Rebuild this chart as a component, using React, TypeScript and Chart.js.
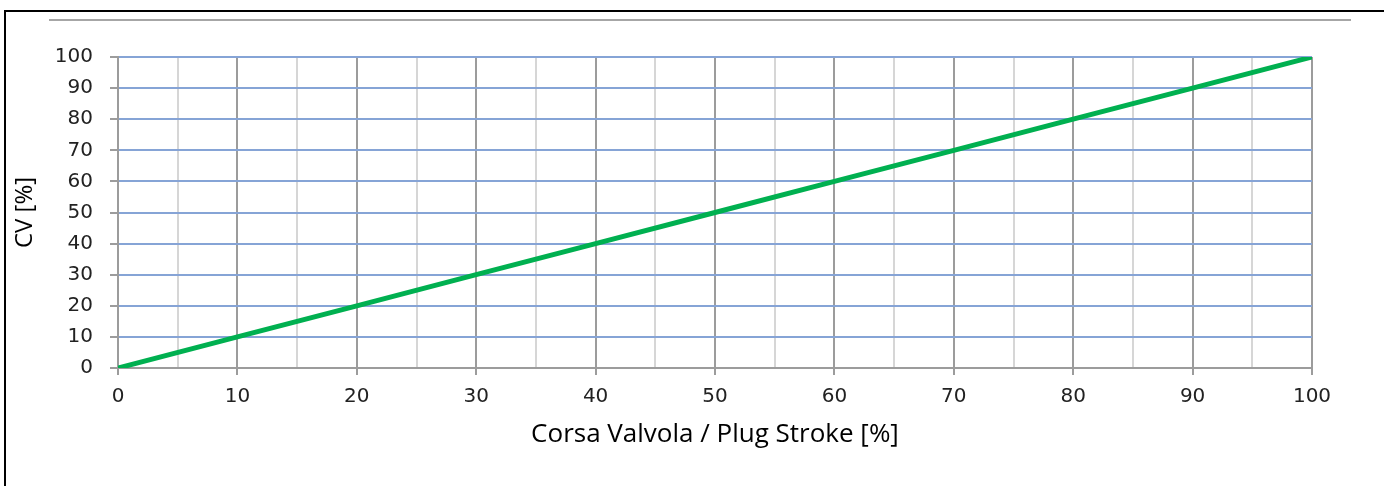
import React, { useEffect, useRef } from "react";
import { Chart, registerables } from "chart.js";

Chart.register(...registerables);

const strokePercent = [0, 10, 20, 30, 40, 50, 60, 70, 80, 90, 100];
const cvPercent = [0, 10, 20, 30, 40, 50, 60, 70, 80, 90, 100];
const xTitle = "Corsa Valvola / Plug Stroke [%]";
const yTitle = "CV [%]";

export default function App() {
  const ref = useRef<HTMLCanvasElement | null>(null);

  useEffect(() => {
    if (!ref.current) return;
    const tickFont = { family: "'DejaVu Sans', Verdana, sans-serif", size: 20 };
    const chart = new Chart(ref.current, {
      type: "line",
      data: {
        datasets: [
          {
            data: strokePercent.map((x, i) => ({ x, y: cvPercent[i] })),
            borderColor: "#00b050",
            borderWidth: 5,
            pointRadius: 0,
            tension: 0,
            fill: false,
          },
        ],
      },
      options: {
        animation: false,
        responsive: false,
        maintainAspectRatio: false,
        layout: { padding: { left: 0, top: 57, right: 72, bottom: 0 } },
        plugins: { legend: { display: false }, tooltip: { enabled: false } },
        scales: {
          x: {
            type: "linear",
            min: 0,
            max: 100,
            afterFit: (s: any) => {
              s.height = 118;
            },
            ticks: {
              stepSize: 5,
              autoSkip: false,
              maxRotation: 0,
              padding: 10,
              color: "#222222",
              font: tickFont,
              callback: (v: any) => (Number(v) % 10 === 0 ? String(v) : ""),
            },
            grid: {
              lineWidth: 2,
              tickLength: 7,
              color: (ctx: any) =>
                ctx.tick && ctx.tick.value % 10 === 0 ? "#9c9c9c" : "#d6d6d6",
              tickColor: (ctx: any) =>
                ctx.tick && ctx.tick.value % 10 === 0 ? "#9c9c9c" : "rgba(0,0,0,0)",
            },
            border: { display: true, color: "#9c9c9c", width: 2 },
            title: {
              display: true,
              text: xTitle,
              color: "#000000",
              font: { family: "'Open Sans', 'Noto Sans', sans-serif", size: 26 },
              padding: { top: 0, bottom: 36 },
            },
          },
          y: {
            type: "linear",
            min: 0,
            max: 100,
            afterFit: (s: any) => {
              s.width = 118;
            },
            ticks: {
              stepSize: 10,
              padding: 17,
              color: "#222222",
              font: tickFont,
            },
            grid: {
              lineWidth: 2,
              tickLength: 8,
              color: "#86a4d6",
              tickColor: "#9c9c9c",
            },
            border: { display: true, color: "#9c9c9c", width: 2 },
            title: {
              display: true,
              text: yTitle,
              color: "#000000",
              font: { family: "'Open Sans', 'Noto Sans', sans-serif", size: 24 },
              padding: { top: 11, bottom: 0 },
            },
          },
        },
      },
    });
    return () => chart.destroy();
  }, []);

  return (
    <div
      style={{
        position: "fixed",
        left: 0,
        top: 0,
        width: 1384,
        height: 486,
        overflow: "hidden",
        background: "#ffffff",
      }}
    >
      <div
        style={{
          position: "absolute",
          left: 4,
          top: 10,
          width: 2000,
          height: 1000,
          borderLeft: "2px solid #000",
          borderTop: "2px solid #000",
        }}
      />
      <div
        style={{
          position: "absolute",
          left: 49,
          top: 19,
          width: 1302,
          height: 2,
          background: "#a6a6a6",
        }}
      />
      <canvas
        ref={ref}
        width={1384}
        height={486}
        style={{ position: "absolute", left: 0, top: 0, width: 1384, height: 486 }}
      />
    </div>
  );
}
